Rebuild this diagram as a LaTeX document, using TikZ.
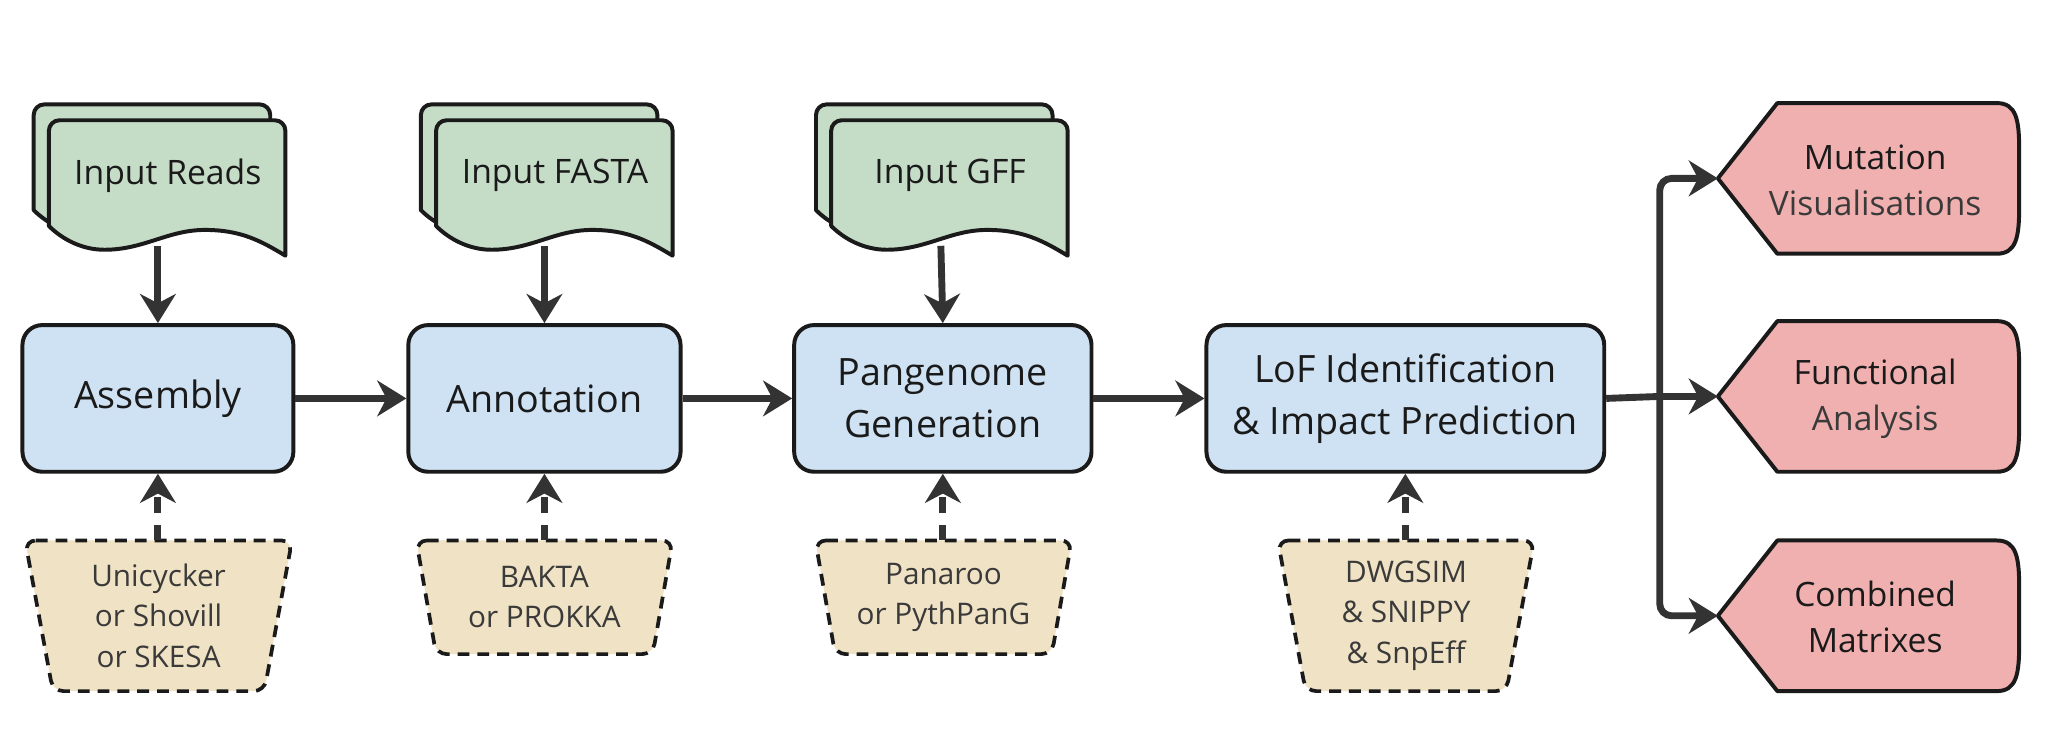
\documentclass[tikz,border=0pt]{standalone}
\usepackage{fontspec}
\setmainfont{Open Sans}
\usetikzlibrary{arrows.meta}
\definecolor{procblue}{HTML}{CFE2F3}
\definecolor{docgreen}{HTML}{C5DCC7}
\definecolor{tooltan}{HTML}{F0E2C4}
\definecolor{outpink}{HTML}{F0B0B0}
\definecolor{edge}{HTML}{1A1A1A}
\definecolor{arrowgray}{HTML}{333333}
\definecolor{txtdark}{HTML}{1A1A1A}
\definecolor{txtgray}{HTML}{3A3A3A}
\newcommand{\pageoutline}{(0,80) -- (0,8) arc[start angle=180,end angle=270,radius=8] -- (171,0) arc[start angle=270,end angle=360,radius=8] -- (179,102.5) .. controls (160,91) and (145,83) .. (118,83) .. controls (90,83) and (72,98) .. (42,98) .. controls (25,98) and (10,90) .. (0,80) -- cycle}
\newcommand{\docpages}[2]{%
  \begin{scope}[shift={(#1,#2)}]
    \filldraw[pageshape,shift={(-11.5,-12)}] \pageoutline;
    \filldraw[pageshape] \pageoutline;
  \end{scope}}
\newcommand{\trapshape}[5]{% top y, top left, top right, bottom y, inset
  \filldraw[trapstyle] (#2,#1) -- (#3,#1) -- ({#3-#5},#4) -- ({#2+#5},#4) -- cycle;}
\newcommand{\outshape}[1]{% center y
  \filldraw[outstyle] (1300,#1) -- (1345,{#1-57}) -- (1511,{#1-57}) .. controls (1526,{#1-57}) and (1528,{#1-44}) .. (1528,{#1-22}) -- (1528,{#1+22}) .. controls (1528,{#1+44}) and (1526,{#1+57}) .. (1511,{#1+57}) -- (1345,{#1+57}) -- cycle;}
\begin{document}
\begin{tikzpicture}[x=1pt,y=-1pt,
  pageshape/.style={fill=docgreen,draw=edge,line width=3pt,line join=round},
  trapstyle/.style={fill=tooltan,draw=edge,line width=2.8pt,dash pattern=on 9pt off 6pt,rounded corners=8pt},
  outstyle/.style={fill=outpink,draw=edge,line width=3pt,line join=round},
  proc/.style={rectangle,rounded corners=15pt,fill=procblue,draw=edge,line width=3pt,minimum height=111pt,align=center,text=txtdark,font=\fontsize{28.5}{39}\selectfont},
  doctext/.style={text=txtdark,font=\fontsize{25.5}{34}\selectfont},
  tooltext/.style={align=center,text=txtgray,font=\fontsize{22.5}{30.5}\selectfont},
  outtext/.style={align=center,text=txtdark,font=\fontsize{25.4}{35}\selectfont},
  arr/.style={draw=arrowgray,line width=5.2pt,-{Stealth[length=22pt,width=27pt,inset=7pt]}},
  darr/.style={arr,dash pattern=on 12pt off 9pt},
  plainline/.style={draw=arrowgray,line width=5.2pt},
]
\useasboundingbox (0,0) rectangle (1568,571);

% documents
\docpages{37}{91}
\docpages{330}{91}
\docpages{629}{91}
\node[doctext] (dreads) at (127,133) {Input Reads};
\node[doctext] (dfasta) at (420,133) {Input FASTA};
\node[doctext] (dgff) at (719,133) {Input GFF};
\coordinate (dreadsb) at (119.5,186);
\coordinate (dfastab) at (412,186);
\coordinate (dgffb) at (712,186);

% process boxes
\node[proc,minimum width=205pt] (asm) at (119.5,301.5) {Assembly};
\node[proc,minimum width=206pt] (ann) at (412,301.5) {Annotation};
\node[proc,minimum width=225pt] (pan) at (713.5,301.5) {Pangenome\\Generation};
\node[proc,minimum width=301pt] (lof) at (1063.5,301.5) {LoF Identification\\\& Impact Prediction};

% tools
\trapshape{409}{19}{221}{523}{21}
\trapshape{409}{315}{509}{495}{15}
\trapshape{409}{617}{811}{495}{15}
\trapshape{409}{967}{1161}{523}{21}
\node[tooltext] (tasm) at (120,466) {Unicycker\\or Shovill\\or SKESA};
\node[tooltext] (tann) at (412,452) {BAKTA\\or PROKKA};
\node[tooltext] (tpan) at (714,452) {Panaroo\\or PythPanG};
\node[tooltext] (tlof) at (1064,466) {DWGSIM\\\& SNIPPY\\\& SnpEff};
\coordinate (tasmt) at (119.5,409);
\coordinate (tannt) at (412,409);
\coordinate (tpant) at (713.5,409);
\coordinate (tloft) at (1063.5,409);

% outputs
\outshape{135}
\outshape{300}
\outshape{466}
\node[outtext] (omut) at (1419,136.5) {Mutation\\\textcolor{txtgray}{Visualisations}};
\node[outtext] (ofun) at (1419,301.5) {Functional\\\textcolor{txtgray}{Analysis}};
\node[outtext] (ocom) at (1419,467) {Combined\\Matrixes};
\coordinate (omutt) at (1300,135);
\coordinate (ofunt) at (1300,300);
\coordinate (ocomt) at (1300,466);
\coordinate (split) at (1256,300);

% connectors
\draw[arr] (dreadsb) -- (asm.north);
\draw[arr] (dfastab) -- (ann.north);
\draw[arr] (dgffb) -- (pan.north);
\draw[darr] (tasmt) -- (asm.south);
\draw[darr] (tannt) -- (ann.south);
\draw[darr] (tpant) -- (pan.south);
\draw[darr] (tloft) -- (lof.south);
\draw[arr] (asm.east) -- (ann.west);
\draw[arr] (ann.east) -- (pan.west);
\draw[arr] (pan.east) -- (lof.west);
\draw[plainline] (lof.east) -- (split);
\draw[arr] (split) -- (ofunt);
\draw[arr,rounded corners=9pt] (split) |- (omutt);
\draw[arr,rounded corners=9pt] (split) |- (ocomt);
\end{tikzpicture}
\end{document}
